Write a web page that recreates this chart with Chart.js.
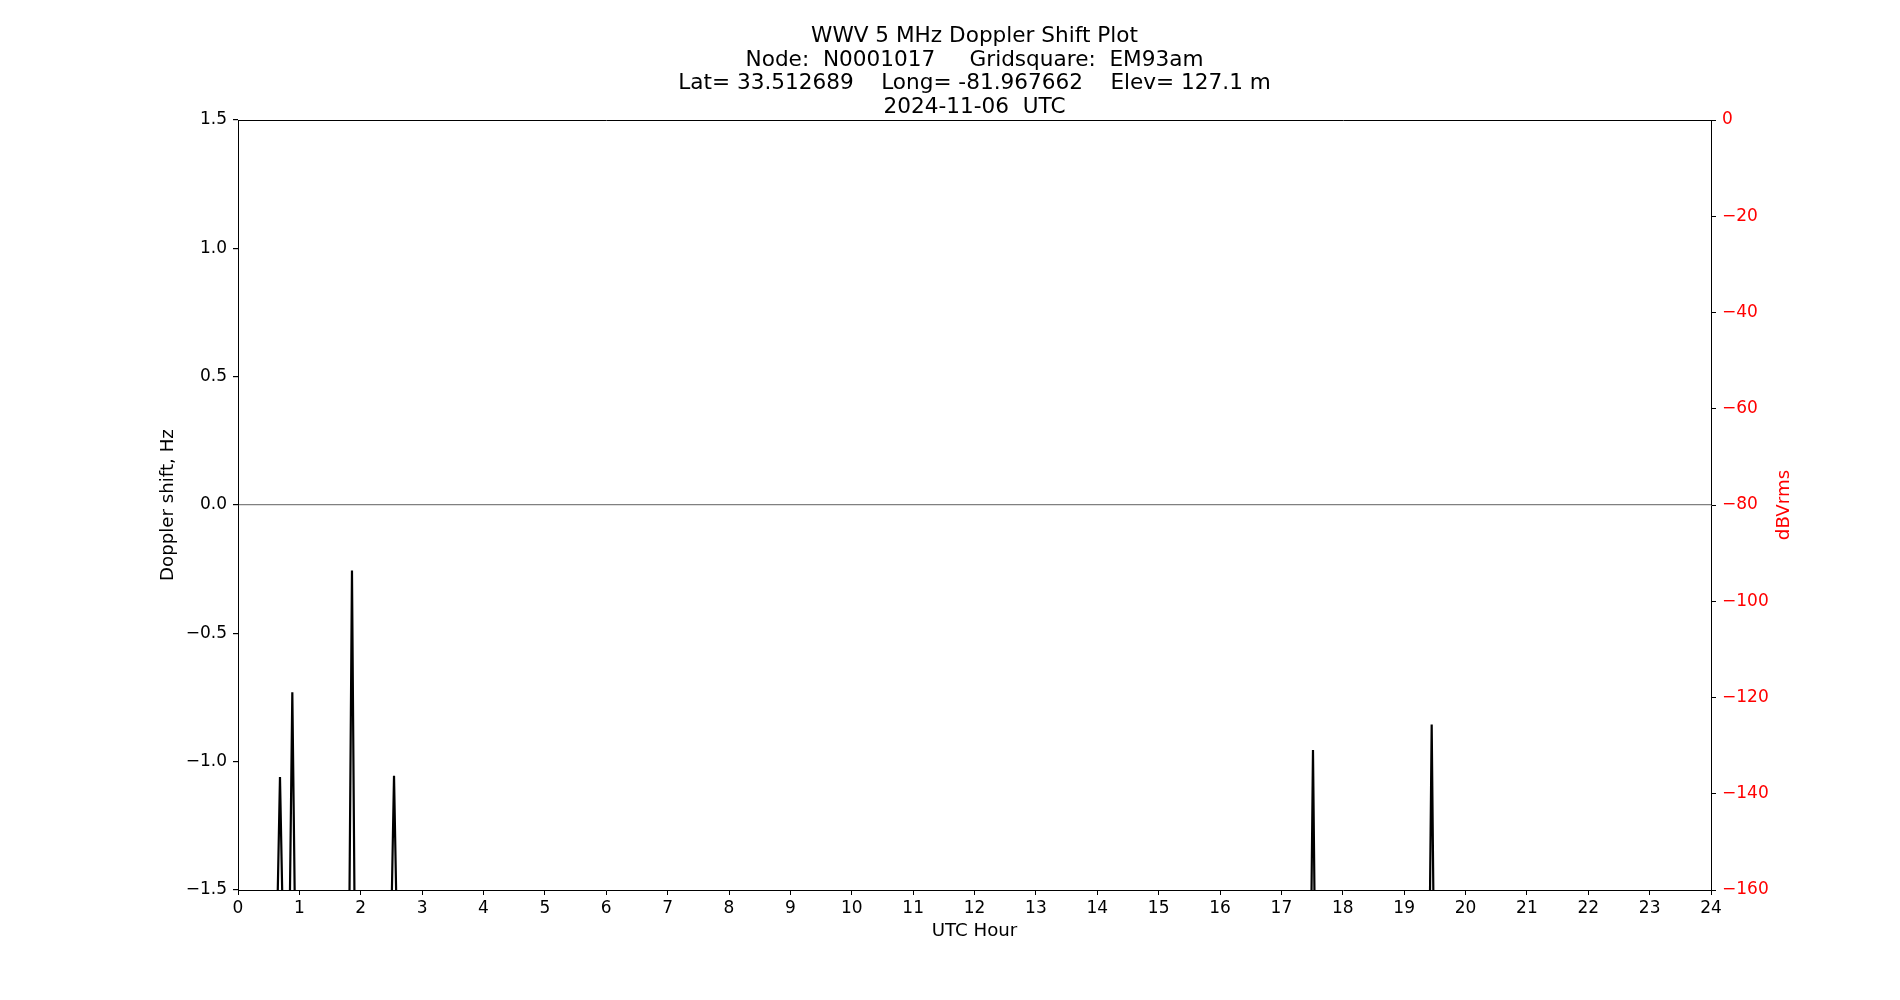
<!DOCTYPE html>
<html>
<head>
<meta charset="utf-8">
<script src="https://cdn.jsdelivr.net/npm/chart.js@4/dist/chart.umd.min.js"></script>
<style>
  body { margin: 0; background: #fff; }
  #grafico { display: block; }
</style>
</head>
<body>
<canvas id="grafico" width="1900" height="1000"></canvas>
<script>
// Datos (hora UTC, corrimiento Doppler en Hz)
// null corta la linea entre picos
const horasUTC = [
  0.640, 0.684, 0.728, null,
  0.842, 0.885, 0.928, null,
  1.814, 1.857, 1.900, null,
  2.500, 2.542, 2.584, null,
  17.487, 17.515, 17.543, null,
  19.418, 19.449, 19.480
];
const dopplerHz = [
  -1.6, -1.06, -1.6, null,
  -1.6, -0.73, -1.6, null,
  -1.6, -0.255, -1.6, null,
  -1.6, -1.055, -1.6, null,
  -1.6, -0.955, -1.6, null,
  -1.6, -0.855, -1.6
];

const ticksHoras = [0, 24, 1];          // min, max, paso
const ticksDoppler = [-1.5, 1.5, 0.5];
const ticksDbv = [-160, 0, 20];

const lineasTitulo = [
  "WWV 5 MHz Doppler Shift Plot",
  "Node:  N0001017     Gridsquare:  EM93am",
  "Lat= 33.512689    Long= -81.967662    Elev= 127.1 m",
  "2024-11-06  UTC"
];
const tituloX = "UTC Hour";
const tituloY = "Doppler shift, Hz";
const tituloY2 = "dBVrms";

const FUENTE = "'DejaVu Sans', sans-serif";
const menos = (s) => String(s).replace("-", "\u2212");

const puntos = horasUTC.map((h, i) => ({ x: h, y: dopplerHz[i] }));

// titulo del eje derecho, de abajo hacia arriba como en matplotlib
const tituloDerecho = {
  id: "tituloDerecho",
  afterDraw(chart) {
    const ctx = chart.ctx;
    const area = chart.chartArea;
    ctx.save();
    ctx.translate(1784, (area.top + area.bottom) / 2);
    ctx.rotate(-Math.PI / 2);
    ctx.font = "18.2px " + FUENTE;
    ctx.fillStyle = "#ff0000";
    ctx.textAlign = "center";
    ctx.textBaseline = "middle";
    ctx.fillText(tituloY2, 0, 0);
    ctx.restore();
  }
};

const chart = new Chart(document.getElementById("grafico").getContext("2d"), {
  type: "line",
  data: {
    datasets: [{
      data: puntos,
      borderColor: "#000",
      borderWidth: 2.2,
      pointRadius: 0,
      tension: 0,
      spanGaps: false,
      yAxisID: "y"
    }]
  },
  options: {
    responsive: false,
    devicePixelRatio: 1,
    animation: false,
    layout: { padding: 0 },
    plugins: {
      legend: { display: false },
      tooltip: { enabled: false },
      title: {
        display: true,
        fullSize: false,
        text: lineasTitulo,
        color: "#000",
        font: { family: FUENTE, size: 21.6, weight: "normal", lineHeight: 1.085 },
        padding: { top: 25, bottom: 1.3 }
      }
    },
    scales: {
      x: {
        type: "linear",
        position: "bottom",
        min: ticksHoras[0],
        max: ticksHoras[1],
        afterFit: (s) => { s.height = 110; },
        ticks: {
          stepSize: ticksHoras[2],
          autoSkip: false,
          maxRotation: 0,
          padding: 3,
          color: "#000",
          font: { family: FUENTE, size: 17 }
        },
        grid: { drawOnChartArea: false, drawTicks: true, tickLength: 5, tickColor: "#000" },
        border: { display: true, color: "#000", width: 1 },
        title: {
          display: true,
          text: tituloX,
          color: "#000",
          font: { family: FUENTE, size: 18.2 },
          padding: { top: 0, bottom: 58 }
        }
      },
      xArriba: {
        type: "linear",
        position: "top",
        min: ticksHoras[0],
        max: ticksHoras[1],
        afterFit: (s) => { s.height = 0; },
        ticks: { display: false },
        grid: { drawOnChartArea: false, drawTicks: false },
        border: { display: true, color: "#000", width: 1 }
      },
      y: {
        type: "linear",
        position: "left",
        min: ticksDoppler[0],
        max: ticksDoppler[1],
        afterFit: (s) => { s.width = 238; },
        ticks: {
          stepSize: ticksDoppler[2],
          padding: 6,
          color: "#000",
          font: { family: FUENTE, size: 17 },
          callback: (v) => menos(Number(v).toFixed(1))
        },
        grid: {
          drawOnChartArea: true,
          drawTicks: true,
          tickLength: 5,
          tickColor: "#000",
          lineWidth: 1.2,
          color: (c) => (c.tick && c.tick.value === 0 ? "#808080" : "rgba(0,0,0,0)")
        },
        border: { display: true, color: "#000", width: 1 },
        title: {
          display: true,
          text: tituloY,
          color: "#000",
          font: { family: FUENTE, size: 18.2 },
          padding: { top: 157, bottom: 0 }
        }
      },
      y2: {
        type: "linear",
        position: "right",
        min: ticksDbv[0],
        max: ticksDbv[1],
        afterFit: (s) => { s.width = 189; },
        ticks: {
          stepSize: ticksDbv[2],
          padding: 6,
          color: "#ff0000",
          font: { family: FUENTE, size: 17 },
          callback: (v) => menos(v)
        },
        grid: { drawOnChartArea: false, drawTicks: true, tickLength: 5, tickColor: "#000" },
        border: { display: true, color: "#000", width: 1 },
        title: { display: false }
      }
    }
  },
  plugins: [tituloDerecho]
});
</script>
</body>
</html>
